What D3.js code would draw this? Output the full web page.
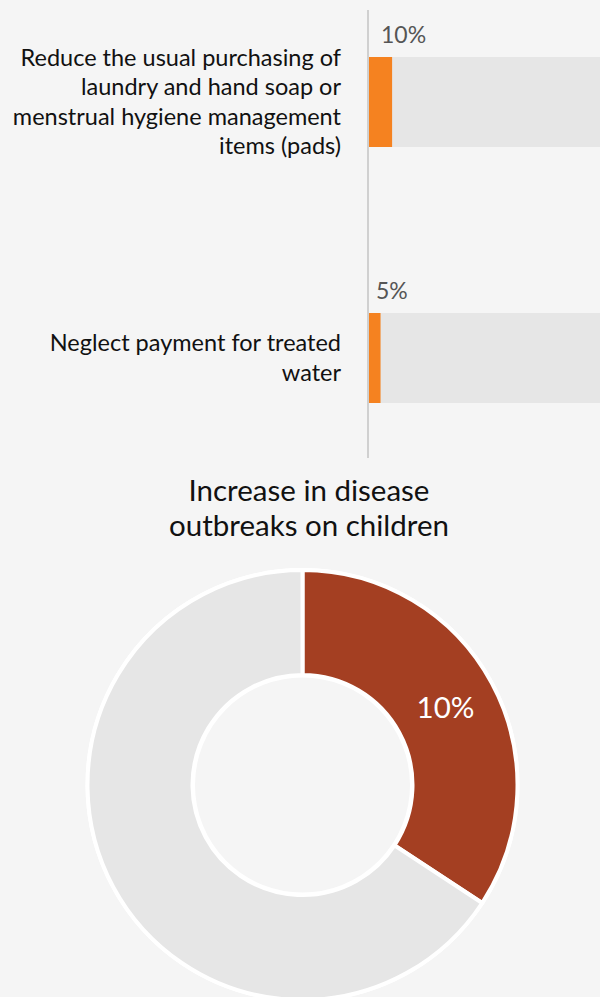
<!DOCTYPE html>
<html><head><meta charset="utf-8">
<script src="https://cdn.jsdelivr.net/npm/d3@7"></script>
<style>
html,body{margin:0;padding:0;background:#f5f5f5;}
svg{display:block;font-family:Lato,"Open Sans",sans-serif;}
</style></head>
<body>
<script>
const categories = [
  ["Reduce the usual purchasing of","laundry and hand soap or","menstrual hygiene management","items (pads)"],
  ["Neglect payment for treated","water"]
];
const barValues = [10, 5];
const barLabels = ["10%", "5%"];
const donutTitle = ["Increase in disease", "outbreaks on children"];
const donutValues = [10, 19.2];
const donutLabels = ["10%", ""];

const W = 600, H = 997;
const svg = d3.select("body").append("svg").attr("width", W).attr("height", H);
svg.append("rect").attr("width", W).attr("height", H).attr("fill", "#f5f5f5");

// Bar chart
const x = d3.scaleLinear().domain([0, 100]).range([369, 600]);
const y = d3.scaleBand().domain(d3.range(categories.length)).range([0, 512]).paddingInner(0);
const barH = 90;
const bandTop = i => y(i) + 57;

const g = svg.append("g");
categories.forEach((lines, i) => {
  const top = bandTop(i);
  g.append("rect").attr("x", x(0)).attr("y", top).attr("width", x(100) - x(0)).attr("height", barH).attr("fill", "#e6e6e6");
  g.append("rect").attr("x", x(0)).attr("y", top).attr("width", x(barValues[i]) - x(0)).attr("height", barH).attr("fill", "#f58220");
  g.append("text").attr("x", x(0) + (i === 0 ? 12 : 7)).attr("y", top - 14)
    .attr("font-size", 23).attr("fill", "#555").text(barLabels[i]);
  const n = lines.length, lh = 29.5;
  const mid = top + barH / 2;
  const t = g.append("text").attr("text-anchor", "end").attr("font-size", 23.5).attr("fill", "#111");
  lines.forEach((l, k) => {
    t.append("tspan").attr("x", 341).attr("y", mid + (k - (n - 1) / 2) * lh + 8).text(l);
  });
});
svg.append("line").attr("x1", 368).attr("x2", 368).attr("y1", 10).attr("y2", 458)
  .attr("stroke", "#d0d0d0").attr("stroke-width", 2);

// Donut
const cx = 302.5, cy = 785, R = 215, r = 110;
const title = svg.append("text").attr("text-anchor", "middle").attr("font-size", 29.5).attr("fill", "#111");
donutTitle.forEach((l, k) => title.append("tspan").attr("x", 309).attr("y", 501 + k * 34.5).text(l));

const pie = d3.pie().sort(null).value(d => d);
const arcs = pie(donutValues);
const arc = d3.arc().innerRadius(r).outerRadius(R);
const dg = svg.append("g").attr("transform", `translate(${cx},${cy})`);
dg.append("circle").attr("r", R + 2).attr("fill", "#fff");
dg.selectAll("path").data(arcs).join("path")
  .attr("d", arc)
  .attr("fill", (d, i) => i === 0 ? "#a43f22" : "#e6e6e6")
  .attr("stroke", "#fff").attr("stroke-width", 4);
dg.append("circle").attr("r", r - 1).attr("fill", "#f5f5f5").attr("stroke", "#fff").attr("stroke-width", 3);
dg.selectAll("text.lbl").data(arcs).join("text").attr("class", "lbl")
  .attr("transform", d => `translate(${arc.centroid(d)})`)
  .attr("dy", "0.35em").attr("text-anchor", "middle")
  .attr("font-size", 29.5).attr("fill", "#fff").text((d, i) => donutLabels[i]);
</script>
</body></html>
